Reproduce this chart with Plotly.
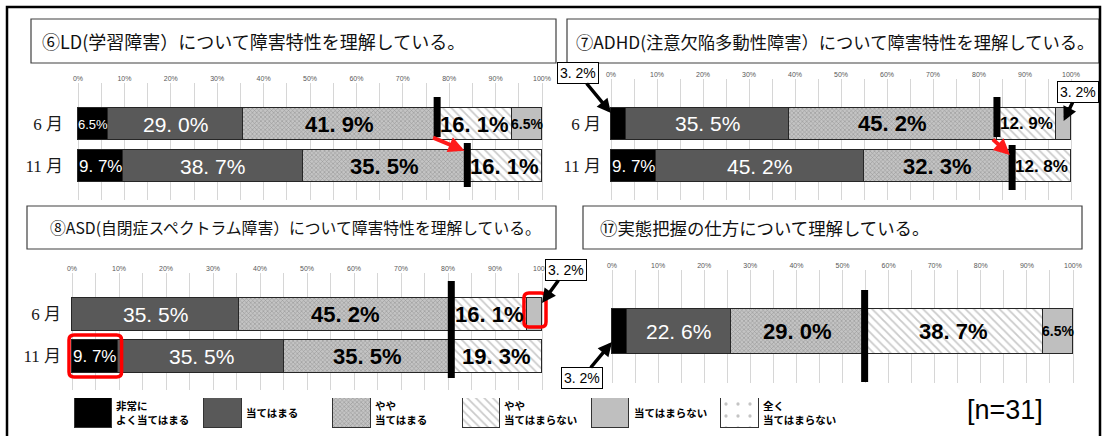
import plotly.graph_objects as go

W, H = 1107, 436

# ---------------- data ----------------
months = ["6 月", "11 月"]
single_row = ["全体"]
categories = ["非常に<br>よく当てはまる", "当てはまる", "やや<br>当てはまる",
              "やや<br>当てはまらない", "当てはまらない", "全く<br>当てはまらない"]
tick_values = [0, 10, 20, 30, 40, 50, 60, 70, 80, 90, 100]
tick_labels = ["0%", "10%", "20%", "30%", "40%", "50%", "60%", "70%", "80%", "90%", "100%"]

titles = ["⑥LD(学習障害）について障害特性を理解している。",
          "⑦ADHD(注意欠陥多動性障害）について障害特性を理解している。",
          "⑧ASD(自閉症スペクトラム障害）について障害特性を理解している。",
          "⑰実態把握の仕方について理解している。"]

ld_jun = [6.5, 29.0, 41.9, 16.1, 6.5, 0.0]
ld_nov = [9.7, 38.7, 35.5, 16.1, 0.0, 0.0]
adhd_jun = [3.2, 35.5, 45.2, 12.9, 3.2, 0.0]
adhd_nov = [9.7, 45.2, 32.3, 12.8, 0.0, 0.0]
asd_jun = [0.0, 35.5, 45.2, 16.1, 3.2, 0.0]
asd_nov = [9.7, 35.5, 35.5, 19.3, 0.0, 0.0]
jittai_all = [3.2, 22.6, 29.0, 38.7, 6.5, 0.0]
sample_label = "[n=31]"

# ---------------- styles / layout ----------------
NUM_FONT = "Liberation Sans, Arial, sans-serif"
CJK = "Noto Sans CJK JP, sans-serif"
SERIF = "Liberation Serif, Noto Sans CJK JP, serif"

styles = [
    dict(color="#000000"),
    dict(color="#595959"),
    dict(color="#b8b8b8", pattern=dict(shape="x", fgcolor="#6a6a6a", bgcolor="#c4c4c4", size=3, solidity=0.35)),
    dict(color="#ffffff", pattern=dict(shape="\\", fgcolor="#969696", bgcolor="#ffffff", size=6, solidity=0.3)),
    dict(color="#bfbfbf"),
    dict(color="#ffffff", pattern=dict(shape=".", fgcolor="#8a8a8a", bgcolor="#ffffff", size=12, solidity=0.06)),
]


def px_x(px):
    return px / W


def px_y(py):
    return 1 - py / H


panels = [
    dict(rows=months, data=[ld_jun, ld_nov], x0=78, x1=542, top=83, bottom=200, c0=124, unit=42, barh=32,
         box=(31, 19, 556, 63), tx=40, tsize=18, standoff=6,
         markers=[(0, 97, 137), (1, 143, 187)], red_arrow=(152, 137)),
    dict(rows=months, data=[adhd_jun, adhd_nov], x0=611, x1=1071, top=79, bottom=200, c0=124, unit=42, barh=32,
         box=(567, 19, 1099, 63), tx=574, tsize=17.3, standoff=1,
         markers=[(0, 97, 137), (1, 145, 190)], red_arrow=(157, 138)),
    dict(rows=months, data=[asd_jun, asd_nov], x0=72, x1=542, top=273, bottom=390, c0=314, unit=42, barh=33,
         box=(27, 206, 556, 249), tx=48, tsize=15.8, standoff=2,
         markers=[(0, 281, 378)], red_arrow=None),
    dict(rows=single_row, data=[jittai_all], x0=612, x1=1073, top=270, bottom=383, c0=331, unit=42, barh=45,
         box=(583, 206, 1082, 249), tx=598, tsize=17.4, standoff=2,
         markers=[(0, 290, 382)], red_arrow=None),
]
PADPX = 8  # extra room either side of each axis so highlight boxes are not clipped

# callouts: panel, row, category, anchor, ax, ay, tip_y(px)
callouts = [
    (1, 0, 0, "start", -33, -40, 113),
    (1, 0, 4, "mid", 14, -29, 121),
    (2, 0, 4, "end", 24, -33, 303),
    (3, 0, 0, "start", -30, 36, 342),
]
# red highlight boxes: panel, row, category, y_top(px), y_bottom(px)
highlights = [
    (2, 0, 4, 293, 327),
    (2, 1, 0, 335, 377),
]


def fmt(v, spaced=True):
    s = f"{v:.1f}%"
    return s.replace(".", ". ") if spaced else s


fig = go.Figure()
shapes = []
annotations = []
layout_axes = {}

for i, p in enumerate(panels):
    n = i + 1
    xa = "x" if n == 1 else f"x{n}"
    ya = "y" if n == 1 else f"y{n}"
    rows = p["rows"]
    for k in range(len(categories)):
        fig.add_trace(go.Bar(
            orientation="h", y=rows, x=[row[k] for row in p["data"]],
            xaxis=xa, yaxis=ya, width=p["barh"] / p["unit"],
            marker=dict(line=dict(color="#262626", width=1), **styles[k]),
            showlegend=False, hoverinfo="skip"))
    nrows = len(rows)
    top, bottom, c0, unit = p["top"], p["bottom"], p["c0"], p["unit"]
    rng_top = -(c0 - top) / unit
    rng_bot = (nrows - 1) + (bottom - (c0 + unit * (nrows - 1))) / unit
    pad = PADPX * 100 / (p["x1"] - p["x0"])
    key = "" if n == 1 else str(n)
    layout_axes["xaxis" + key] = dict(
        domain=[px_x(p["x0"] - PADPX), px_x(p["x1"] + PADPX)], range=[-pad, 100 + pad], anchor=ya, side="top",
        tickmode="array", tickvals=tick_values, ticktext=tick_labels,
        tickfont=dict(family=NUM_FONT, size=7, color="#595959"), ticks="",
        showgrid=True, gridcolor="#d6d6d6", gridwidth=1, zeroline=False, showline=False,
        minor=dict(tickmode="linear", tick0=0, dtick=5, showgrid=True, gridcolor="#d6d6d6", gridwidth=1),
        fixedrange=True)
    layout_axes["yaxis" + key] = dict(
        domain=[px_y(bottom), px_y(top)], type="category", categoryorder="array", categoryarray=rows,
        range=[rng_bot, rng_top], anchor=xa, showgrid=False, zeroline=False, showline=False, ticks="",
        showticklabels=(nrows > 1), ticklabelstandoff=p["standoff"],
        tickfont=dict(family=SERIF, size=17, color="#1a1a1a"), fixedrange=True)

    # segment labels
    for r, row in enumerate(p["data"]):
        cum = 0.0
        for k, v in enumerate(row):
            if v >= 5:
                white = k < 2
                if v < 8:
                    size, spaced = (13 if white else 14), False
                elif v < 14:
                    size, spaced = 17, True
                else:
                    size, spaced = (21 if white else 22), True
                annotations.append(dict(
                    x=cum + v / 2, y=rows[r], xref=xa, yref=ya, text=fmt(v, spaced), showarrow=False,
                    font=dict(family=NUM_FONT, size=size, color="#ffffff" if white else "#000000",
                              weight="normal" if white else "bold")))
            cum += v

    # threshold markers
    for r, yt, yb in p["markers"]:
        thr = sum(p["data"][r][:3])
        shapes.append(dict(type="line", xref=xa, yref="paper", x0=thr, x1=thr,
                           y0=px_y(yt), y1=px_y(yb), line=dict(color="#000000", width=7)))

    # red arrow between month thresholds
    if p["red_arrow"] is not None:
        tip_y, tail_y = p["red_arrow"]
        thr_a = sum(p["data"][0][:3])
        thr_b = sum(p["data"][1][:3])
        annotations.append(dict(
            x=thr_b, y=px_y(tip_y), xref=xa, yref="paper", axref=xa, ax=thr_a - 1.2, ayref="pixel",
            ay=tail_y - tip_y, text="", showarrow=True, arrowcolor="#ff1a1a", arrowwidth=4,
            arrowhead=2, arrowsize=0.8, standoff=3))

    # title box
    bx0, by0, bx1, by1 = p["box"]
    shapes.append(dict(type="rect", xref="paper", yref="paper", x0=px_x(bx0), x1=px_x(bx1),
                       y0=px_y(by1), y1=px_y(by0), line=dict(color="#404040", width=1.2),
                       fillcolor="#ffffff", layer="above"))
    annotations.append(dict(x=px_x(p["tx"]), y=px_y((by0 + by1) / 2), xref="paper", yref="paper",
                            xanchor="left", yanchor="middle", text=titles[i], showarrow=False,
                            font=dict(family=CJK, size=p["tsize"], color="#111111")))

# callouts
for pi, r, k, anchor, ax, ay, tip_y in callouts:
    p = panels[pi]
    n = pi + 1
    xa = "x" if n == 1 else f"x{n}"
    row = p["data"][r]
    start = sum(row[:k])
    v = row[k]
    xpos = start if anchor == "start" else (start + v if anchor == "end" else start + v / 2)
    annotations.append(dict(
        x=xpos, y=px_y(tip_y), xref=xa, yref="paper", ax=ax, ay=ay, text=fmt(v),
        showarrow=True, arrowcolor="#000000", arrowwidth=3.5, arrowhead=2, arrowsize=0.8,
        bordercolor="#000000", borderwidth=1, borderpad=2, bgcolor="#ffffff",
        font=dict(family=NUM_FONT, size=14, color="#000000")))


def rrect(xa_, xb_, ya_, yb_, rx, ry):
    return (f"M {xa_ + rx},{ya_} L {xb_ - rx},{ya_} Q {xb_},{ya_} {xb_},{ya_ + ry} "
            f"L {xb_},{yb_ - ry} Q {xb_},{yb_} {xb_ - rx},{yb_} L {xa_ + rx},{yb_} "
            f"Q {xa_},{yb_} {xa_},{yb_ - ry} L {xa_},{ya_ + ry} Q {xa_},{ya_} {xa_ + rx},{ya_} Z")


for pi, r, k, yt, yb in highlights:
    p = panels[pi]
    n = pi + 1
    xa = "x" if n == 1 else f"x{n}"
    row = p["data"][r]
    start = sum(row[:k])
    end = start + row[k]
    scale = 100 / (p["x1"] - p["x0"])
    pad_l, pad_r = 3 * scale, 4 * scale
    shapes.append(dict(type="path", xref=xa, yref="paper",
                       path=rrect(start - pad_l, end + pad_r, px_y(yb), px_y(yt), 5 * scale, 5 / H),
                       line=dict(color="#ff0000", width=3.5)))

# legend (custom, in its own axis)
for k, name in enumerate(categories):
    fig.add_trace(go.Bar(x=[name], y=[1], xaxis="x5", yaxis="y5", width=0.29,
                         marker=dict(line=dict(color="#333333", width=1.2), **styles[k]),
                         showlegend=False, hoverinfo="skip"))
    annotations.append(dict(x=name, y=px_y(412), xref="x5", yref="paper", xshift=21,
                            xanchor="left", yanchor="middle", align="left", text=name, showarrow=False,
                            font=dict(family=CJK, size=10.5, color="#000000", weight="bold")))
layout_axes["xaxis5"] = dict(domain=[px_x(60), px_x(770)], range=[-0.259, 5.232], type="category",
                             categoryorder="array", categoryarray=categories, anchor="y5",
                             visible=False, fixedrange=True)
layout_axes["yaxis5"] = dict(domain=[px_y(428), px_y(398)], range=[0, 1], anchor="x5",
                             visible=False, fixedrange=True)

annotations.append(dict(x=px_x(1005), y=px_y(410), xref="paper", yref="paper", xanchor="center",
                        yanchor="middle", text=sample_label, showarrow=False,
                        font=dict(family=NUM_FONT, size=27, color="#000000")))

# outer frame
shapes.append(dict(type="rect", xref="paper", yref="paper", x0=px_x(7), x1=px_x(1100),
                   y0=px_y(450), y1=px_y(7), line=dict(color="#000000", width=2.5), layer="above"))

fig.update_layout(
    width=W, height=H, margin=dict(l=0, r=0, t=0, b=0),
    paper_bgcolor="#ffffff", plot_bgcolor="#ffffff", barmode="stack", bargap=0,
    shapes=shapes, annotations=annotations, showlegend=False, **layout_axes)

fig.write_html("out.html")
